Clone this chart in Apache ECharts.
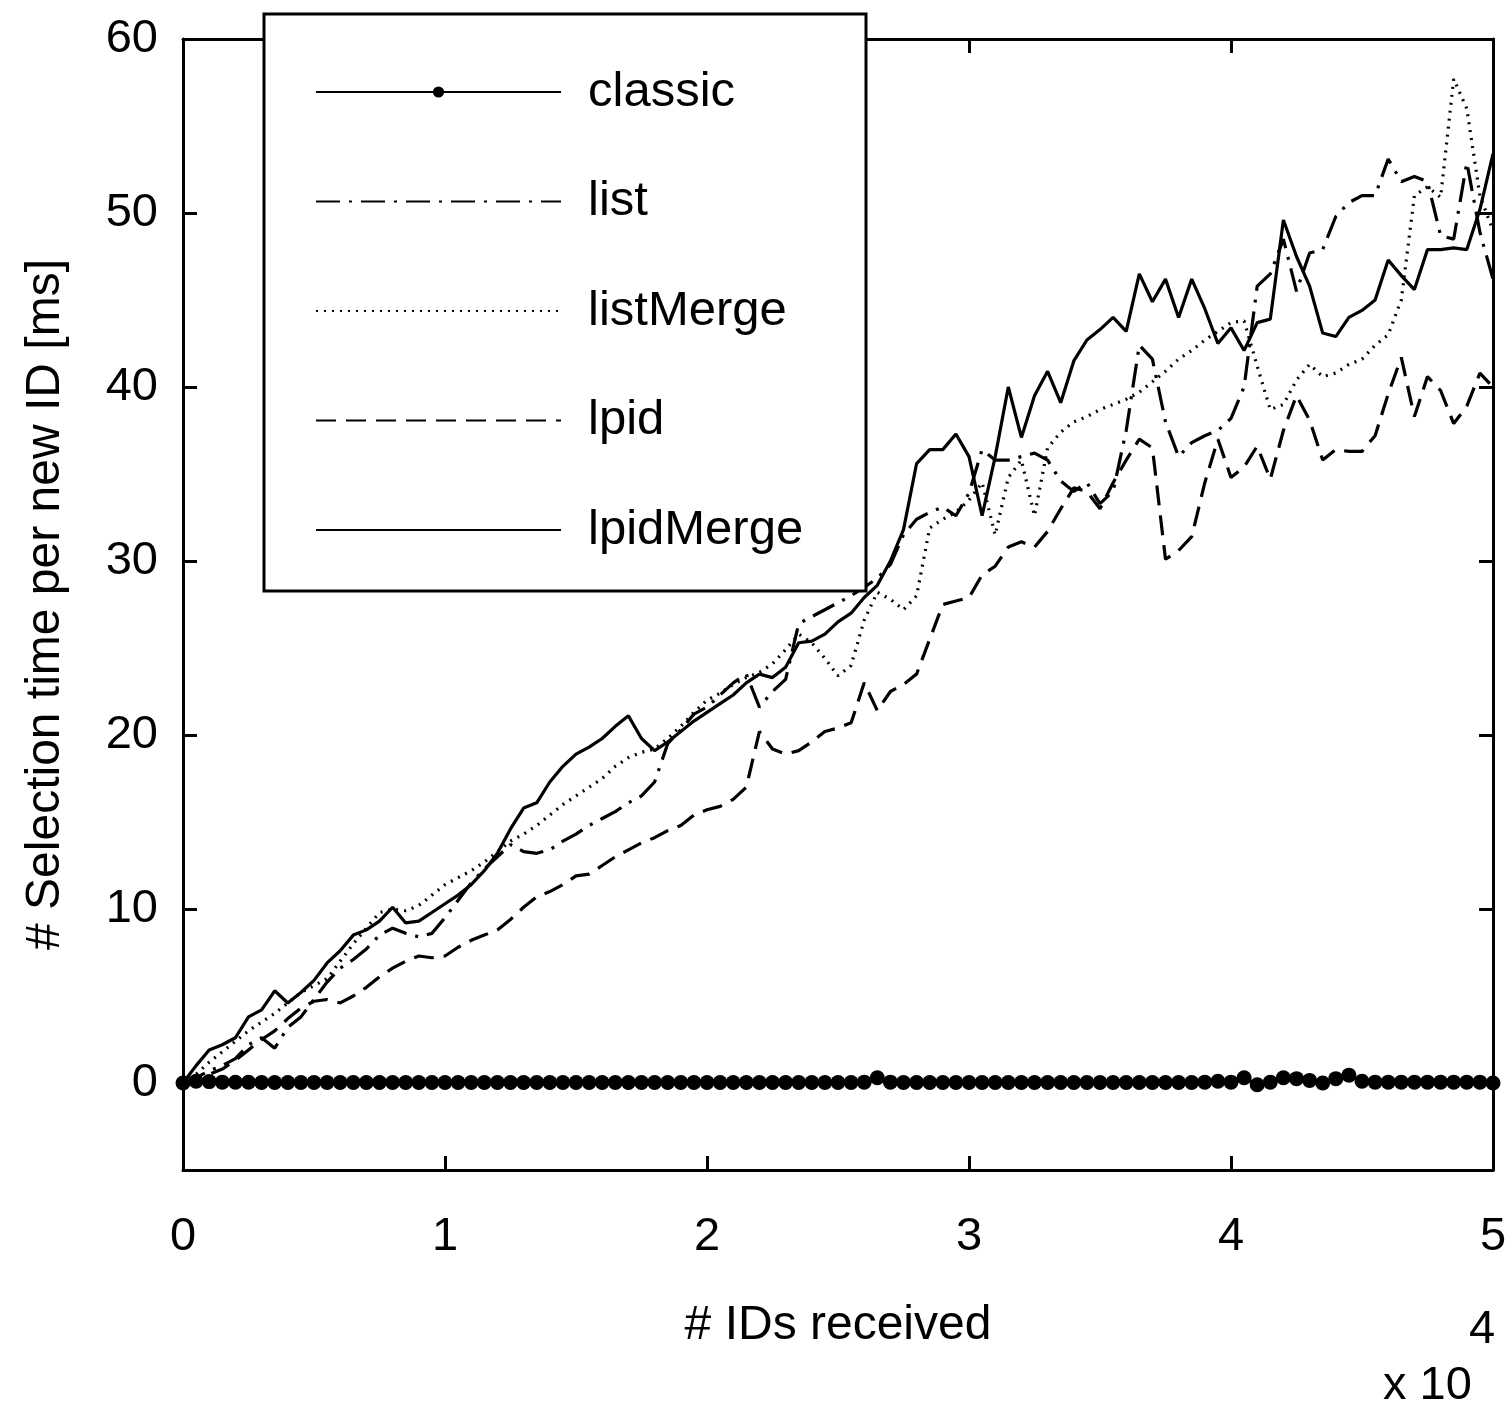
<!DOCTYPE html>
<html>
<head>
<meta charset="utf-8">
<title>Selection time per new ID</title>
<script src="https://cdn.jsdelivr.net/npm/echarts@6/dist/echarts.min.js"></script>
<style>
  html, body { margin: 0; padding: 0; background: #fff; }
  #chart { width: 1508px; height: 1409px; }
</style>
</head>
<body>
<div id="chart"></div>
<script>
// Number of IDs received, sampled every 500 IDs (0 .. 50 000)
const idsReceived = Array.from({ length: 101 }, (_, i) => i * 500);

// Selection time per new ID [ms]
const classic = [
  0, 0.1, 0.08, 0.05, 0.04, 0.04, 0.03, 0.03, 0.03, 0.03,
  0.03, 0.03, 0.03, 0.03, 0.03, 0.03, 0.03, 0.03, 0.03, 0.03,
  0.03, 0.03, 0.03, 0.03, 0.03, 0.03, 0.03, 0.03, 0.03, 0.03,
  0.03, 0.03, 0.03, 0.03, 0.03, 0.03, 0.03, 0.03, 0.03, 0.03,
  0.03, 0.03, 0.03, 0.03, 0.03, 0.03, 0.03, 0.03, 0.03, 0.03,
  0.03, 0.03, 0.05, 0.3, 0.05, 0.03, 0.03, 0.03, 0.03, 0.03,
  0.03, 0.03, 0.03, 0.03, 0.03, 0.03, 0.03, 0.03, 0.03, 0.03,
  0.03, 0.03, 0.03, 0.03, 0.03, 0.03, 0.03, 0.03, 0.05, 0.1,
  0.05, 0.3, -0.1, 0.05, 0.3, 0.25, 0.15, 0.0, 0.25, 0.45,
  0.1, 0.05, 0.05, 0.05, 0.05, 0.05, 0.05, 0.05, 0.05, 0.05,
  0.0
];

const list = [
  0, 0.3, 0.7, 1.0, 1.4, 2.2, 2.6, 2.0, 3.2, 3.8,
  4.8, 5.8, 6.6, 7.1, 7.7, 8.5, 8.9, 8.6, 8.4, 8.6,
  9.5, 10.5, 11.5, 12.3, 13.0, 13.7, 13.3, 13.2, 13.4, 13.9,
  14.3, 14.8, 15.2, 15.6, 16.1, 16.5, 17.3, 19.5, 20.3, 21.2,
  21.6, 22.3, 23.0, 23.5, 21.6, 22.5, 23.2, 26.4, 26.8, 27.2,
  27.6, 28.0, 28.5, 29.0, 29.8, 31.5, 32.4, 32.8, 33.1, 32.6,
  33.9, 36.4, 35.8, 35.8, 36.0, 36.2, 35.8, 34.6, 34.0, 34.5,
  33.3, 34.0, 37.5, 42.4, 41.6, 38.0, 36.0, 36.8, 37.2, 37.5,
  38.2, 40.0, 45.8, 46.5, 48.5, 45.5, 47.7, 47.9, 49.8, 50.6,
  51.0, 51.0, 53.1, 51.8, 52.1, 51.8, 48.7, 48.5, 52.9, 48.9,
  46.2
];

const listMerge = [
  0, 0.5, 1.2, 1.8, 2.4, 3.0, 3.5, 4.0, 4.6, 5.2,
  5.6, 6.0, 7.0, 8.0, 8.9, 9.8, 10.0, 9.9, 10.2, 10.8,
  11.4, 11.8, 12.2, 12.7, 13.3, 13.9, 14.3, 14.8, 15.4, 16.0,
  16.5, 17.0, 17.5, 18.2, 18.7, 19.0, 19.2, 19.8, 20.5, 21.3,
  22.0, 22.4, 22.9, 23.3, 23.6, 24.1, 24.9, 25.8, 25.3, 24.4,
  23.4, 24.0, 26.6, 28.2, 27.8, 27.2, 28.0, 31.9, 32.4, 32.8,
  33.5, 34.5, 31.5, 34.8, 35.8, 32.6, 36.5, 37.4, 38.0, 38.3,
  38.7, 39.0, 39.3, 39.7, 40.3, 40.9, 41.6, 42.1, 42.7, 43.2,
  43.7, 43.8, 41.2, 38.7, 39.0, 40.4, 41.3, 40.6, 40.8, 41.3,
  41.6, 42.4, 43.0, 45.0, 51.0, 51.5, 50.9, 57.7, 56.0, 51.0,
  49.0
];

const lpid = [
  0, 0.2, 0.5, 0.8, 1.3, 1.9, 2.5, 3.0, 3.7, 4.3,
  4.7, 4.8, 4.6, 5.0, 5.5, 6.1, 6.6, 7.0, 7.3, 7.2,
  7.3, 7.8, 8.2, 8.5, 8.8, 9.4, 10.1, 10.7, 11.0, 11.4,
  11.9, 12.0, 12.5, 13.0, 13.4, 13.8, 14.1, 14.5, 14.8, 15.4,
  15.7, 15.9, 16.3, 17.0, 20.2, 19.2, 18.9, 19.1, 19.6, 20.2,
  20.4, 20.7, 23.0, 21.4, 22.5, 22.9, 23.5, 25.5, 27.5, 27.7,
  27.9, 29.2, 29.7, 30.8, 31.1, 30.8, 31.7, 33.0, 34.2, 34.0,
  33.0, 34.5, 35.8, 37.0, 36.5, 30.1, 30.6, 31.4, 34.5, 37.0,
  34.8, 35.4, 36.6, 34.7, 37.5, 39.5, 38.1, 35.8, 36.4, 36.3,
  36.3, 37.2, 39.6, 41.7, 38.3, 40.6, 39.8, 37.9, 38.9, 40.8,
  40.0
];

const lpidMerge = [
  0, 1.0, 1.9, 2.2, 2.6, 3.8, 4.2, 5.3, 4.6, 5.2,
  5.9, 6.9, 7.6, 8.5, 8.8, 9.3, 10.1, 9.2, 9.3, 9.8,
  10.3, 10.8, 11.4, 12.2, 13.2, 14.6, 15.8, 16.1, 17.3, 18.2,
  18.9, 19.3, 19.8, 20.5, 21.1, 19.8, 19.1, 19.6, 20.2, 20.8,
  21.3, 21.8, 22.3, 23.0, 23.5, 23.3, 23.9, 25.3, 25.4, 25.8,
  26.5, 27.0, 27.9, 28.6, 30.0, 31.8, 35.6, 36.4, 36.4, 37.3,
  36.0, 32.6, 36.0, 40.0, 37.1, 39.5, 40.9, 39.1, 41.5, 42.7,
  43.3, 44.0, 43.2, 46.5, 44.9, 46.2, 44.0, 46.2, 44.5, 42.5,
  43.4, 42.1, 43.7, 43.9, 49.6, 47.5, 45.8, 43.1, 42.9, 44.0,
  44.4, 45.0, 47.3, 46.4, 45.6, 47.9, 47.9, 48.0, 47.9, 50.2,
  53.4
];

// Axis tick positions
const yTicks = [0, 10, 20, 30, 40, 50, 60];
const xTicks = [0, 10000, 20000, 30000, 40000, 50000];

const FONT = 'Liberation Sans, Arial, Helvetica, sans-serif';
const INK = '#000';
const LINE_W = 3.2;

function pairs(values) {
  return idsReceived.map((x, i) => [x, values[i]]);
}

function lineSeries(name, values, dash, extra) {
  return Object.assign({
    name: name,
    type: 'line',
    data: pairs(values),
    symbol: 'none',
    color: INK,
    lineStyle: { color: INK, width: LINE_W, type: dash },
    xAxisIndex: 0,
    yAxisIndex: 0,
    silent: true,
    z: 2
  }, extra || {});
}

const baseAxisLine = { show: true, onZero: false, lineStyle: { color: INK, width: 3 } };
const baseTick = { show: true, inside: true, length: 14, lineStyle: { color: INK, width: 3 } };

// Legend entries: only "classic" shows its marker next to the line sample
const noMarker = { color: 'rgba(0,0,0,0)', borderWidth: 0 };
const legendItems = [
  { name: 'classic' },
  { name: 'list', itemStyle: noMarker },
  { name: 'listMerge', itemStyle: noMarker },
  { name: 'lpid', itemStyle: noMarker },
  { name: 'lpidMerge', itemStyle: noMarker }
];

const chart = echarts.init(document.getElementById('chart'), null, { renderer: 'canvas' });

chart.setOption({
  animation: false,
  backgroundColor: '#fff',
  grid: {
    left: 183, right: 15, top: 39, bottom: 239,
    containLabel: false, outerBoundsMode: 'none'
  },
  xAxis: [
    {
      type: 'value', position: 'bottom', min: 0, max: 50000, interval: 10000,
      axisLine: baseAxisLine,
      axisTick: Object.assign({ customValues: xTicks }, baseTick),
      axisLabel: {
        customValues: xTicks,
        color: INK, fontSize: 47, fontFamily: FONT, margin: 44,
        formatter: v => String(v / 10000)
      },
      splitLine: { show: false },
      name: '# IDs received', nameLocation: 'middle', nameGap: 132,
      nameTextStyle: { color: INK, fontSize: 48, fontFamily: FONT }
    },
    {
      type: 'value', position: 'top', min: 0, max: 50000, interval: 10000,
      axisLine: baseAxisLine,
      axisTick: Object.assign({ customValues: xTicks }, baseTick),
      axisLabel: { show: false },
      splitLine: { show: false }
    }
  ],
  yAxis: [
    {
      type: 'value', position: 'left', min: -5, max: 60, interval: 5,
      axisLine: baseAxisLine,
      axisTick: Object.assign({ customValues: yTicks }, baseTick),
      axisLabel: {
        customValues: yTicks,
        color: INK, fontSize: 47, fontFamily: FONT, margin: 25
      },
      splitLine: { show: false },
      name: '# Selection time per new ID [ms]', nameLocation: 'middle', nameGap: 113,
      nameRotate: 90,
      nameTextStyle: { color: INK, fontSize: 48, fontFamily: FONT }
    },
    {
      type: 'value', position: 'right', min: -5, max: 60, interval: 5,
      axisLine: baseAxisLine,
      axisTick: Object.assign({ customValues: yTicks }, baseTick),
      axisLabel: { show: false },
      splitLine: { show: false }
    }
  ],
  legend: {
    orient: 'vertical',
    left: 315,
    top: 67,
    padding: 0,
    itemWidth: 245,
    itemHeight: 14,
    itemGap: 59.5,
    selectedMode: false,
    z: 10,
    textStyle: {
      color: INK, fontSize: 49, fontFamily: FONT, lineHeight: 50,
      padding: [0, 0, 0, 22]
    },
    data: legendItems
  },
  graphic: [
    {
      type: 'rect', z: 5, silent: true,
      shape: { x: 264, y: 14, width: 602, height: 577 },
      style: { fill: '#fff', stroke: INK, lineWidth: 3 }
    },
    {
      type: 'text', z: 5, silent: true, x: 1383, y: 1386,
      style: { text: 'x 10', fill: INK, font: '47px ' + FONT, textVerticalAlign: 'middle' }
    },
    {
      type: 'text', z: 5, silent: true, x: 1469, y: 1330,
      style: { text: '4', fill: INK, font: '47px ' + FONT, textVerticalAlign: 'middle' }
    }
  ],
  series: [
    lineSeries('classic', classic, 'solid', {
      symbol: 'circle', symbolSize: 15, showSymbol: true, showAllSymbol: true,
      itemStyle: { color: INK }, z: 3
    }),
    lineSeries('list', list, [24, 9, 3, 9]),
    lineSeries('listMerge', listMerge, [2, 6]),
    lineSeries('lpid', lpid, [20, 10]),
    lineSeries('lpidMerge', lpidMerge, 'solid')
  ]
});
</script>
</body>
</html>
